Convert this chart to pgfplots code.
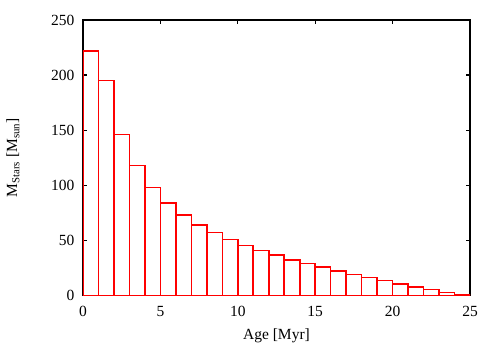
\documentclass[border=0pt]{standalone}
\usepackage{pgfplots}
\pgfplotsset{compat=1.18}
\usepackage{fontspec}
\setmainfont{Liberation Serif}

\begin{document}
\begin{tikzpicture}
  \useasboundingbox (-83bp,-54.5bp) rectangle (417bp,295.5bp);
  \begin{axis}[
      at={(0,0)}, anchor=south west,
      scale only axis,
      width=387bp, height=275.5bp,
      xmin=0, xmax=25, ymin=0, ymax=250,
      xtick={0,5,...,25}, ytick={0,50,...,250},
      tick align=inside,
      major tick length=4bp,
      axis line style={line width=2pt},
      tick style={line width=1.4pt, black},
      /pgf/number format/assume math mode=true,
      tick label style={font=\fontsize{15.5bp}{18bp}\selectfont},
      label style={font=\fontsize{15.5bp}{18bp}\selectfont},
      xticklabel style={yshift=-7bp},
      yticklabel style={xshift=-5bp},
      xlabel={Age [Myr]},
      ylabel={M\textsubscript{Stars} [M\textsubscript{sun}]},
      xlabel style={at={(axis description cs:0.5,-0.147)}, anchor=center},
      ylabel style={at={(axis description cs:-0.181,0.5)}, anchor=center},
    ]
    \addplot[ybar, bar width=1, bar shift=0, draw=red, fill=none, line width=1.6pt] coordinates {
      (0.5,222) (1.5,195) (2.5,146) (3.5,118) (4.5,98) (5.5,84) (6.5,73) (7.5,64)
      (8.5,57) (9.5,51) (10.5,45.5) (11.5,41) (12.5,36.7) (13.5,32.2) (14.5,29.2)
      (15.5,25.6) (16.5,22.2) (17.5,19.2) (18.5,16.2) (19.5,13.5) (20.5,10.7)
      (21.5,7.7) (22.5,5.3) (23.5,2.9) (24.5,0.7)
    };
  \end{axis}
\end{tikzpicture}
\end{document}
